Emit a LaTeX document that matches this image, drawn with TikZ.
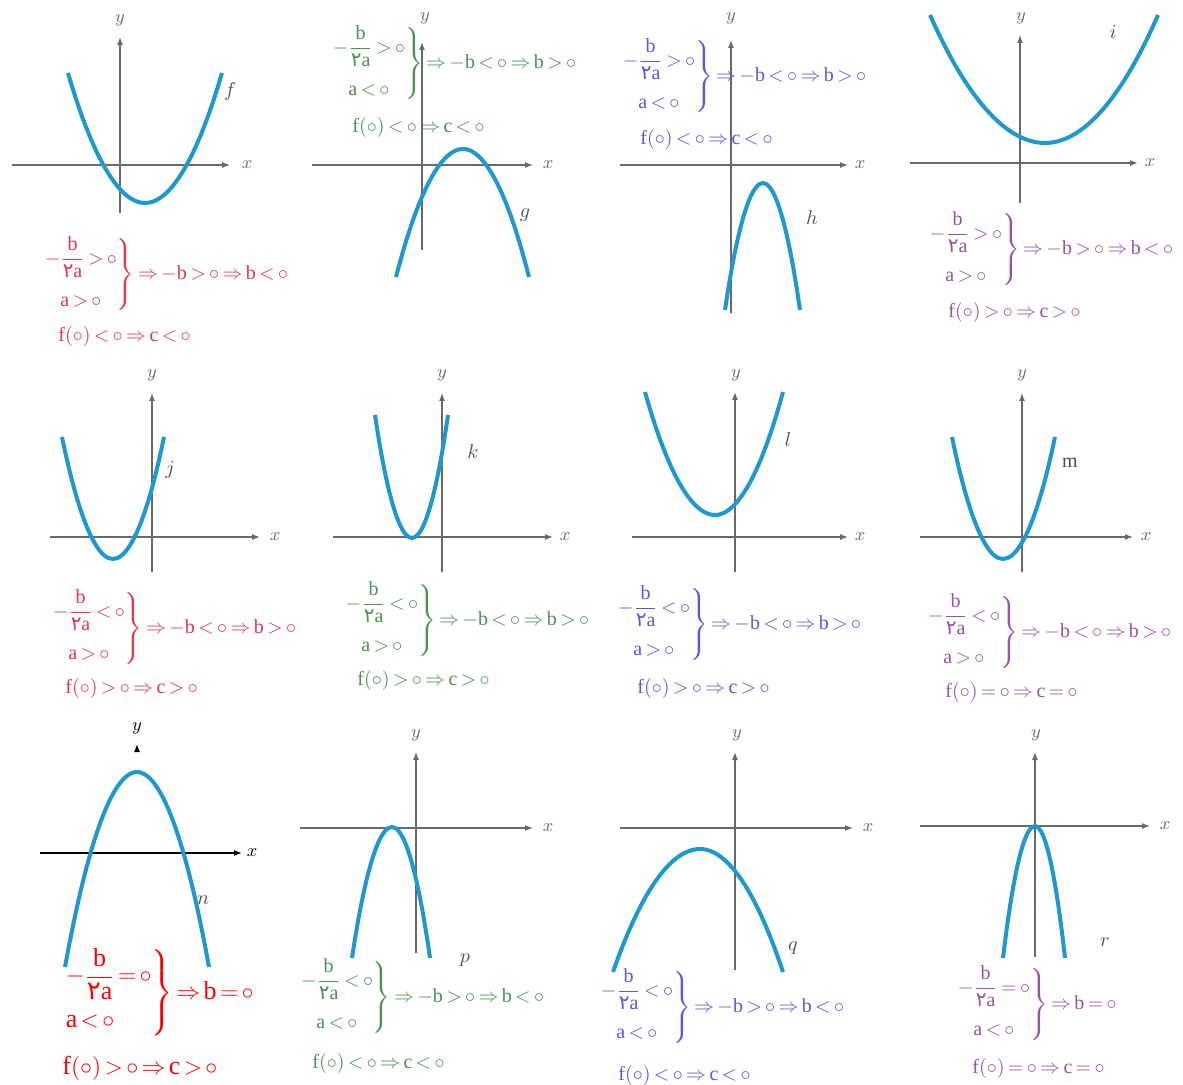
\documentclass[tikz,border=0pt]{standalone}
\usepackage{amsmath}
\usepackage{fontspec}
\setmainfont{Liberation Serif}
\newfontfamily\persian[Script=Arabic]{DejaVu Sans}
\usetikzlibrary{arrows.meta}

\definecolor{curveblue}{RGB}{30,152,208}
\definecolor{axisgray}{RGB}{105,105,105}
\definecolor{condred}{RGB}{228,55,75}
\definecolor{condgreen}{RGB}{72,148,78}
\definecolor{condblue}{RGB}{88,88,218}
\definecolor{condpurple}{RGB}{150,82,165}

\newcommand\zr{\mathord{\circ}}
\newcommand\tw{\text{\persian ۲}}

\tikzset{
  axis/.style={draw=axisgray, line width=0.6pt, -{Latex[length=4pt,width=3pt]}},
  curve/.style={draw=curveblue, line width=2pt},
  axlabel/.style={text=axisgray, font=\fontsize{9.5}{9.5}\selectfont, inner sep=0pt},
  fname/.style={text=black!70, font=\fontsize{10}{10}\selectfont, inner sep=0pt},
  cond/.style={anchor=west, inner sep=0pt, font=\fontsize{10}{12}\selectfont,
    execute at begin node={\thickmuskip=3mu\medmuskip=1.5mu}},
  bigcond/.style={anchor=west, inner sep=0pt, font=\fontsize{13}{15.5}\selectfont,
    execute at begin node={\thickmuskip=2.5mu\medmuskip=1mu}}
}

\begin{document}
\begin{tikzpicture}[x=0.5pt, y=-0.5pt]
  \useasboundingbox[fill=white] (0,0) rectangle (1183,1085);

  % --- f ---
  \draw[axis] (12,165) -- (230,165);
  \node[axlabel] (fx) at (247,165) {$x$};
  \draw[axis] (120,213) -- (120,37);
  \node[axlabel] (fy) at (120,20) {$y$};
  \draw[curve] (68,73) parabola bend (145,203) (222,73);
  \node[fname] (fn) at (230,92) {$f$};
  \node[cond, text=condred] (fc) at (42,275)
    {$\left.\begin{array}{@{}c@{}}-\dfrac{\mathrm b}{\tw\mathrm a}>\zr\\[9pt] \mathrm a>\zr\end{array}\right\}\Rightarrow-\mathrm b>\zr\Rightarrow\mathrm b<\zr$};
  \node[cond, text=condred] (ff) at (58,337) {$\mathrm f(\zr)<\zr\Rightarrow\mathrm c<\zr$};

  % --- g ---
  \draw[axis] (312,165) -- (533,165);
  \node[axlabel] (gx) at (548,165) {$x$};
  \draw[axis] (422,250) -- (422,42);
  \node[axlabel] (gy) at (425,18) {$y$};
  \draw[curve] (396,277) parabola bend (463,149) (529,277);
  \node[fname] (gn) at (525,215) {$g$};
  \node[cond, text=condgreen] (gc) at (330,64)
    {$\left.\begin{array}{@{}c@{}}-\dfrac{\mathrm b}{\tw\mathrm a}>\zr\\[9pt] \mathrm a<\zr\end{array}\right\}\Rightarrow-\mathrm b<\zr\Rightarrow\mathrm b>\zr$};
  \node[cond, text=condgreen] (gf) at (352,128) {$\mathrm f(\zr)<\zr\Rightarrow\mathrm c<\zr$};

  % --- h ---
  \draw[axis] (620,165) -- (848,165);
  \node[axlabel] (hx) at (860,165) {$x$};
  \draw[axis] (731,313) -- (731,40);
  \node[axlabel] (hy) at (731,18) {$y$};
  \draw[curve] (725,310) parabola bend (763,183) (800,310);
  \node[fname] (hn) at (812,218) {$h$};
  \node[cond, text=condblue] (hc) at (620,77)
    {$\left.\begin{array}{@{}c@{}}-\dfrac{\mathrm b}{\tw\mathrm a}>\zr\\[9pt] \mathrm a<\zr\end{array}\right\}\Rightarrow-\mathrm b<\zr\Rightarrow\mathrm b>\zr$};
  \node[cond, text=condblue] (hf) at (640,140) {$\mathrm f(\zr)<\zr\Rightarrow\mathrm c<\zr$};

  % --- i ---
  \draw[axis] (910,163) -- (1138,163);
  \node[axlabel] (ix) at (1150,163) {$x$};
  \draw[axis] (1020,203) -- (1020,35);
  \node[axlabel] (iy) at (1021,18) {$y$};
  \draw[curve] (930,15) parabola bend (1045,143) (1158,15);
  \node[fname] (in) at (1113,32) {$i$};
  \node[cond, text=condpurple] (ic) at (927,250)
    {$\left.\begin{array}{@{}c@{}}-\dfrac{\mathrm b}{\tw\mathrm a}>\zr\\[9pt] \mathrm a>\zr\end{array}\right\}\Rightarrow-\mathrm b>\zr\Rightarrow\mathrm b<\zr$};
  \node[cond, text=condpurple] (if) at (948,313) {$\mathrm f(\zr)>\zr\Rightarrow\mathrm c>\zr$};

  % --- j ---
  \draw[axis] (50,537) -- (260,537);
  \node[axlabel] (jx) at (275,537) {$x$};
  \draw[axis] (152,572) -- (152,393);
  \node[axlabel] (jy) at (152,375) {$y$};
  \draw[curve] (62,437) parabola bend (113,559) (164,437);
  \node[fname] (jn) at (170,470) {$j$};
  \node[cond, text=condred] (jc) at (50,628)
    {$\left.\begin{array}{@{}c@{}}-\dfrac{\mathrm b}{\tw\mathrm a}<\zr\\[9pt] \mathrm a>\zr\end{array}\right\}\Rightarrow-\mathrm b<\zr\Rightarrow\mathrm b>\zr$};
  \node[cond, text=condred] (jf) at (65,688) {$\mathrm f(\zr)>\zr\Rightarrow\mathrm c>\zr$};

  % --- k ---
  \draw[axis] (333,537) -- (553,537);
  \node[axlabel] (kx) at (565,537) {$x$};
  \draw[axis] (442,572) -- (442,393);
  \node[axlabel] (ky) at (442,375) {$y$};
  \draw[curve] (375,415) parabola bend (412,538) (448,415);
  \node[fname] (kn) at (473,452) {$k$};
  \node[cond, text=condgreen] (kc) at (343,620)
    {$\left.\begin{array}{@{}c@{}}-\dfrac{\mathrm b}{\tw\mathrm a}<\zr\\[9pt] \mathrm a>\zr\end{array}\right\}\Rightarrow-\mathrm b<\zr\Rightarrow\mathrm b>\zr$};
  \node[cond, text=condgreen] (kf) at (357,680) {$\mathrm f(\zr)>\zr\Rightarrow\mathrm c>\zr$};

  % --- l ---
  \draw[axis] (632,537) -- (848,537);
  \node[axlabel] (lx) at (860,537) {$x$};
  \draw[axis] (735,572) -- (735,392);
  \node[axlabel] (ly) at (736,375) {$y$};
  \draw[curve] (645,392) parabola bend (715,515) (783,392);
  \node[fname] (ln) at (788,440) {$l$};
  \node[cond, text=condblue] (lc) at (615,624)
    {$\left.\begin{array}{@{}c@{}}-\dfrac{\mathrm b}{\tw\mathrm a}<\zr\\[9pt] \mathrm a>\zr\end{array}\right\}\Rightarrow-\mathrm b<\zr\Rightarrow\mathrm b>\zr$};
  \node[cond, text=condblue] (lf) at (637,688) {$\mathrm f(\zr)>\zr\Rightarrow\mathrm c>\zr$};

  % --- m ---
  \draw[axis] (920,537) -- (1133,537);
  \node[axlabel] (mx) at (1146,537) {$x$};
  \draw[axis] (1022,572) -- (1022,393);
  \node[axlabel] (my) at (1022,375) {$y$};
  \draw[curve] (952,437) parabola bend (1003,559) (1055,437);
  \node[fname] (mn) at (1070,463) {$\mathrm m$};
  \node[cond, text=condpurple] (mc) at (925,632)
    {$\left.\begin{array}{@{}c@{}}-\dfrac{\mathrm b}{\tw\mathrm a}<\zr\\[9pt] \mathrm a>\zr\end{array}\right\}\Rightarrow-\mathrm b<\zr\Rightarrow\mathrm b>\zr$};
  \node[cond, text=condpurple] (mf) at (945,692) {$\mathrm f(\zr)=\zr\Rightarrow\mathrm c=\zr$};

  % --- n ---
  \draw[axis, draw=black] (40,853) -- (242,853);
  \node[axlabel, text=black] (nx) at (252,853) {$x$};
  \draw[axis, draw=black] (137,751) -- (137,744);
  \node[axlabel, text=black] (ny) at (137,728) {$y$};
  \draw[curve] (65,967) parabola bend (137,772) (209,967);
  \node[fname] (nn) at (203,900) {$n$};
  \node[bigcond, text=red] (nc) at (63,993)
    {$\left.\begin{array}{@{}l@{}}-\dfrac{\mathrm b}{\tw\mathrm a}=\zr\\[7pt] \mathrm a<\zr\end{array}\right\}\Rightarrow\mathrm b=\zr$};
  \node[bigcond, text=red] (nf) at (62,1068) {$\mathrm f(\zr)>\zr\Rightarrow\mathrm c>\zr$};

  % --- p ---
  \draw[axis] (300,828) -- (533,828);
  \node[axlabel] (px) at (548,828) {$x$};
  \draw[axis] (416,953) -- (416,752);
  \node[axlabel] (py) at (416,735) {$y$};
  \draw[curve] (352,958) parabola bend (392,827) (430,958);
  \node[fname] (pn) at (465,960) {$p$};
  \node[cond, text=condgreen] (pc) at (298,997)
    {$\left.\begin{array}{@{}c@{}}-\dfrac{\mathrm b}{\tw\mathrm a}<\zr\\[9pt] \mathrm a<\zr\end{array}\right\}\Rightarrow-\mathrm b>\zr\Rightarrow\mathrm b<\zr$};
  \node[cond, text=condgreen] (pf) at (312,1063) {$\mathrm f(\zr)<\zr\Rightarrow\mathrm c<\zr$};

  % --- q ---
  \draw[axis] (620,828) -- (853,828);
  \node[axlabel] (qx) at (868,828) {$x$};
  \draw[axis] (735,970) -- (735,752);
  \node[axlabel] (qy) at (737,735) {$y$};
  \draw[curve] (613,972) parabola bend (700,849) (783,972);
  \node[fname] (qn) at (793,948) {$q$};
  \node[cond, text=condblue] (qc) at (598,1007)
    {$\left.\begin{array}{@{}c@{}}-\dfrac{\mathrm b}{\tw\mathrm a}<\zr\\[9pt] \mathrm a<\zr\end{array}\right\}\Rightarrow-\mathrm b>\zr\Rightarrow\mathrm b<\zr$};
  \node[cond, text=condblue] (qf) at (618,1075) {$\mathrm f(\zr)<\zr\Rightarrow\mathrm c<\zr$};

  % --- r ---
  \draw[axis] (920,826) -- (1150,826);
  \node[axlabel] (rx) at (1165,826) {$x$};
  \draw[axis] (1035,957) -- (1035,752);
  \node[axlabel] (ry) at (1036,735) {$y$};
  \draw[curve] (1003,958) parabola bend (1035,826) (1065,958);
  \node[fname] (rn) at (1105,942) {$r$};
  \node[cond, text=condpurple] (rc) at (955,1004)
    {$\left.\begin{array}{@{}c@{}}-\dfrac{\mathrm b}{\tw\mathrm a}=\zr\\[9pt] \mathrm a<\zr\end{array}\right\}\Rightarrow\mathrm b=\zr$};
  \node[cond, text=condpurple] (rf) at (972,1068) {$\mathrm f(\zr)=\zr\Rightarrow\mathrm c=\zr$};
\end{tikzpicture}
\end{document}
